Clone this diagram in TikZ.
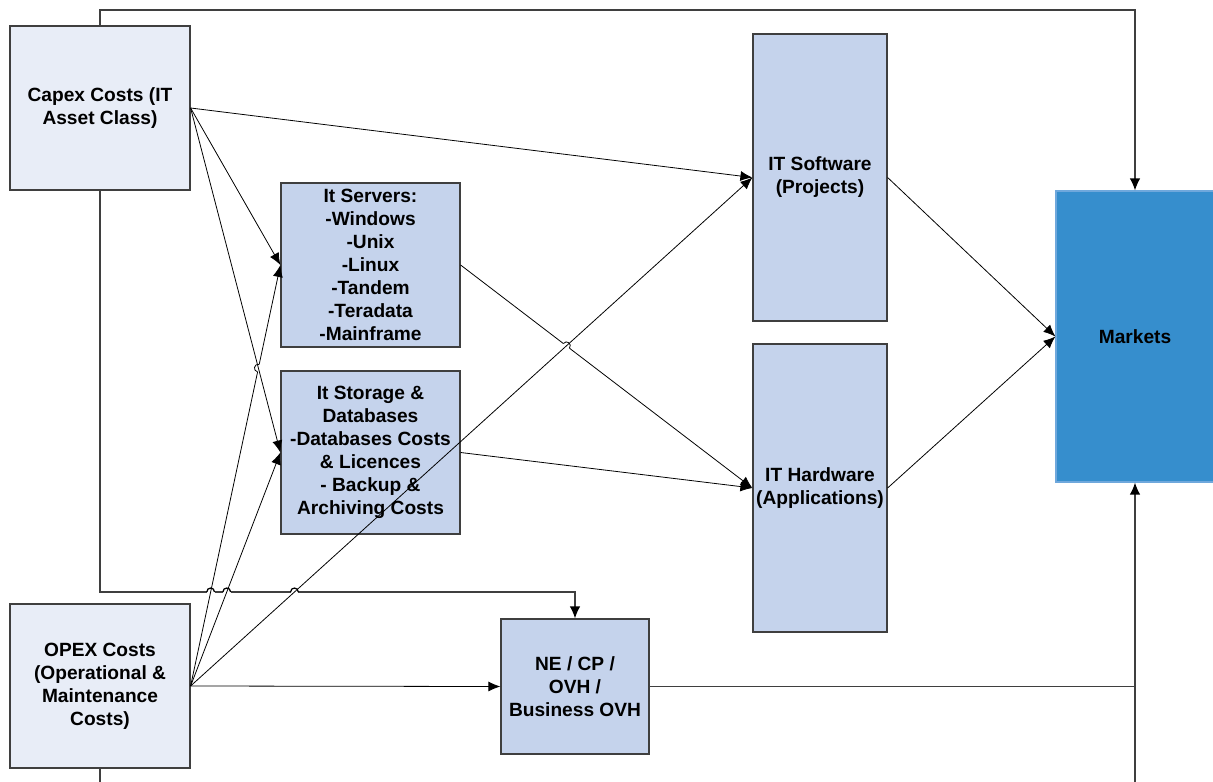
\documentclass[tikz,border=0pt]{standalone}
\usepackage{fontspec}
\setmainfont{Liberation Sans}
\usetikzlibrary{arrows.meta,calc,intersections}

\definecolor{capexfill}{HTML}{E8EDF7}
\definecolor{itfill}{HTML}{C5D3EC}
\definecolor{boxline}{HTML}{3F3F3F}
\definecolor{marketfill}{HTML}{368ECD}
\definecolor{marketline}{HTML}{6FA8DC}

\tikzset{
  costbox/.style={draw=boxline, line width=0.7pt, fill=capexfill, align=center, inner sep=0pt,
    font=\bfseries\fontsize{10.9}{13.1}\selectfont},
  itbox/.style={costbox, fill=itfill},
  marketbox/.style={costbox, draw=marketline, fill=marketfill},
  link/.style={line width=0.45pt, -{Latex[length=2.4mm,width=2mm]}},
  route/.style={draw=boxline, line width=0.7pt, -{Latex[length=2.4mm,width=2.1mm,black]}}
}

\newcommand{\hopat}[3][0.45pt]{%
  \draw[white, line width=1.3pt] ($(#2)!2.2pt!(#3)$) -- ($(#2)!-2.2pt!(#3)$);
  \draw[line width=#1] ($(#2)!2.2pt!(#3)$) .. controls ($(#2)!2.2pt!(#3)!3pt!90:(#2)$) and ($(#2)!-2.2pt!(#3)!3pt!-90:(#2)$) .. ($(#2)!-2.2pt!(#3)$);
}

\begin{document}
\begin{tikzpicture}[x=0.02cm,y=-0.02cm]
\clip (0,0) rectangle (1213,781);

\node[costbox, minimum width=3.6cm, minimum height=3.28cm] at (100,108) (CAPEX) {Capex Costs (IT\\Asset Class)};
\node[costbox, minimum width=3.6cm, minimum height=3.28cm] at (100,686) (OPEX) {OPEX Costs\\(Operational \&\\Maintenance\\Costs)};
\node[itbox, minimum width=3.58cm, minimum height=3.28cm] at (370.5,265) (SRV) {It Servers:\\-Windows\\-Unix\\-Linux\\-Tandem\\-Teradata\\-Mainframe};
\node[itbox, minimum width=3.58cm, minimum height=3.26cm] at (370.5,452.5) (STO) {It Storage \&\\Databases\\-Databases Costs\\\& Licences\\- Backup \&\\Archiving Costs};
\node[itbox, minimum width=2.68cm, minimum height=5.74cm] at (820,177.5) (SW) {IT Software\\(Projects)};
\node[itbox, minimum width=2.68cm, minimum height=5.76cm] at (820,488) (HW) {IT Hardware\\(Applications)};
\node[itbox, minimum width=2.96cm, minimum height=2.7cm] at (575,686.5) (NE) {NE / CP /\\OVH /\\Business OVH};
\node[marketbox, minimum width=3.16cm, minimum height=5.82cm] at (1135,336.5) (MKT) {Markets};

\coordinate (TOP) at (0,10);
\coordinate (MID) at (0,592);
\coordinate (BOT) at (0,800);

\path[name path=midrow] (CAPEX.south |- MID) -- (NE.north |- MID);
\path[name path=osrv] (OPEX.east) -- (SRV.west);
\path[name path=osto] (OPEX.east) -- (STO.west);
\path[name path=osw] (OPEX.east) -- (SW.west);
\path[name path=cst] (CAPEX.east) -- (STO.west);
\path[name path=shw] (SRV.east) -- (HW.west);
\path[name intersections={of=midrow and osrv, by=H1}];
\path[name intersections={of=midrow and osto, by=H2}];
\path[name intersections={of=midrow and osw, by=H3}];
\path[name intersections={of=cst and osrv, by=H4}];
\path[name intersections={of=shw and osw, by=H5}];

\draw[route] (CAPEX.north) -- (CAPEX.north |- TOP) -| (MKT.north);
\draw[route] (CAPEX.south) -- (CAPEX.south |- MID) -| (NE.north);
\draw[route] (OPEX.south) -- (OPEX.south |- BOT) -| (MKT.south);
\draw[route, -] (NE.east) -- (NE.east -| MKT.south);
\hopat[0.7pt]{H1}{CAPEX.south |- MID}
\hopat[0.7pt]{H2}{CAPEX.south |- MID}
\hopat[0.7pt]{H3}{CAPEX.south |- MID}

\draw[link] (CAPEX.east) -- (SW.west);
\draw[link] (CAPEX.east) -- (SRV.west);
\draw[link] (SRV.east) -- (HW.west);
\hopat{H5}{SRV.east}
\draw[link] (STO.east) -- (HW.west);
\draw[link] (OPEX.east) -- (SRV.west);
\hopat{H4}{OPEX.east}
\draw[link] (CAPEX.east) -- (STO.west);
\draw[link] (OPEX.east) -- (STO.west);
\draw[link] (OPEX.east) -- (SW.west);
\draw[link] (OPEX.east) -- (NE.west);
\draw[link] (SW.east) -- (MKT.west);
\draw[link] (HW.east) -- (MKT.west);
\end{tikzpicture}
\end{document}
